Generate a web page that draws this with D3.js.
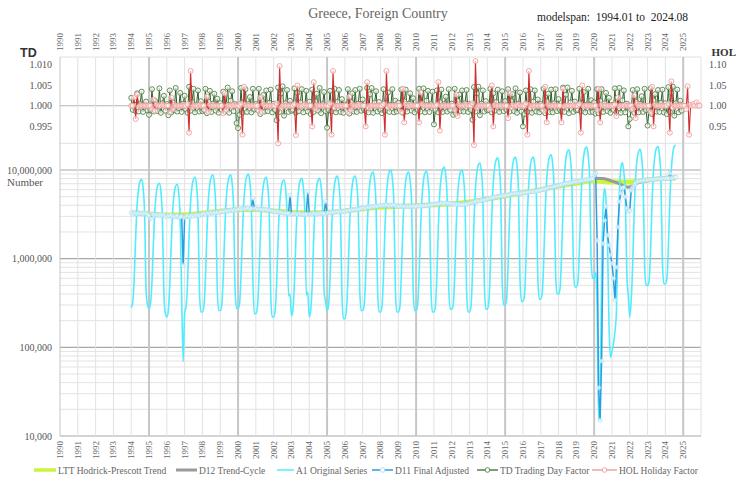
<!DOCTYPE html>
<html>
<head>
<meta charset="utf-8">
<title>Greece, Foreign Country</title>
<script src="https://cdn.jsdelivr.net/npm/d3@7"></script>
<style>
body { margin: 0; background: #fff; }
text { font-family: "Liberation Serif", "Times New Roman", serif; }
</style>
</head>
<body>
<div id="chart"></div>
<script>

//Monthly series start 1994.01 (values in thousands)
var startYear = 1994;

//A1 original series
var a1Original = [
280,320,600,1750,4100,6300,7500,7850,6300,3300,450,300,
275,310,560,1550,3700,5700,6800,7100,5700,2900,420,240,
220,260,520,1500,3600,5500,6600,6900,5500,2800,380,69,
240,290,560,1800,4300,6600,7900,8300,6700,3500,420,250,
250,290,600,1900,4600,7000,8400,8800,7100,3700,440,260,
260,300,620,1950,4600,7000,8400,8800,7100,3700,450,275,
275,310,640,2000,4700,7200,8600,9000,7200,3800,560,240,
240,280,560,1800,4300,6600,7900,8300,6600,3500,400,220,
220,260,530,1700,4000,6100,7400,7700,6200,3200,380,400,
225,270,540,1700,4100,6400,7700,8050,6400,3400,390,420,
220,265,520,1750,4200,6400,7700,8050,6400,3400,420,330,
260,300,600,1900,4500,6800,8200,8550,6800,3600,400,210,
210,260,560,1900,4500,6800,8200,8550,6900,3600,450,260,
260,300,640,2100,5000,7600,9100,9500,7600,4000,470,250,
250,290,650,2200,5200,8000,9600,10000,8000,4200,480,250,
250,280,620,2100,4900,7600,9100,9500,7600,4000,450,260,
260,300,640,2100,5000,7700,9300,9700,7800,4100,460,250,
250,290,650,2300,5600,8600,10300,10800,8600,4500,470,270,
270,300,640,2200,5200,8000,9600,10000,8000,4200,450,250,
250,290,700,2600,6200,9600,11500,12000,9600,5000,500,270,
270,320,800,3000,7100,10900,13100,13700,11000,5800,560,300,
300,350,850,3000,7300,11200,13400,14000,11200,5900,600,330,
330,380,900,3100,7300,11200,13400,14000,11200,6000,640,350,
350,410,950,3300,7700,11800,14200,14800,11800,6300,700,400,
400,460,1050,3700,8800,13500,16200,16900,13500,7200,800,480,
480,540,1200,4000,9500,14600,17500,18200,14600,7700,900,600,
600,700,280,15,25,600,3800,6200,4500,1500,180,77,
90,110,150,250,1500,5500,10500,12100,9500,5200,700,380,
220,350,900,3500,8500,13500,16300,17100,13800,7400,850,500,
500,560,1200,4200,9800,14800,17700,18400,14800,7900,900,520,
520,600,1300,4500,10200,15500,18500,19200
];

//D11 final seasonally adjusted series
var d11Adjusted = [
3300,3180,3350,3240,3200,3280,3230,3260,3190,3300,3220,3150,
3050,2840,3200,3150,3080,3120,3100,3060,3140,3050,3120,3000,
2960,3100,3020,3080,2950,3000,2980,3050,2900,2950,3000,840,
2900,2980,3050,2950,3020,3080,3000,3100,3060,3120,3050,3150,
3180,3220,3150,3250,3280,3200,3300,3250,3320,3280,3350,3300,
3350,3420,3380,3450,3480,3400,3520,3500,3550,3480,3600,3550,
3600,3650,3580,3700,3620,3680,3650,3720,3600,3700,4800,3650,
3680,3600,3650,3580,3620,3550,3600,3580,3500,3550,3480,3450,
3420,3380,3350,3400,3300,3320,3280,3250,3300,3220,3250,5200,
3150,3200,3250,3180,3150,3220,3180,3150,3200,3120,3180,5700,
3150,3220,3180,3250,3200,3180,3260,3220,3280,3200,3250,4400,
3250,3320,3280,3350,3300,3380,3350,3400,3320,3420,3380,3400,
3420,3480,3450,3520,3500,3560,3540,3600,3580,3620,3650,3700,
3720,3750,3700,3800,3820,3780,3860,3900,3850,3920,3880,3950,
4000,3950,4020,3980,4050,4000,3960,4030,3990,4050,3980,3900,
3920,3880,3950,3850,3900,3870,3920,3860,3900,3880,3920,3900,
3880,3950,3900,3980,3920,3960,3940,4000,3960,4020,4050,4080,
4100,4150,4120,4200,4180,4250,4220,4200,4260,4180,4220,4150,
4180,4120,4150,4080,4120,4100,4060,4120,4080,4150,4120,4200,
4220,4280,4300,4350,4400,4450,4500,4480,4550,4600,4580,4650,
4700,4750,4800,4850,4900,4950,5000,4980,5050,5100,5080,5150,
5200,5180,5250,5300,5350,5400,5380,5420,5450,5400,5500,5480,
5520,5580,5550,5600,5650,5700,5680,5720,5750,5800,5850,5900,
5950,6050,6100,6150,6200,6300,6350,6400,6450,6500,6550,6650,
6700,6750,6800,6900,7000,7050,7100,7150,7200,7250,7300,7350,
7400,7450,7500,7550,7600,7650,7700,7750,7800,7850,7900,8000,
8600,9200,1600,35,15,70,1480,2700,3850,1840,1420,1100,
880,600,340,800,2280,4400,5450,6200,6400,5000,3700,3400,
3500,5900,6400,6800,7100,7400,7450,7500,7550,7600,7650,7700,
7700,7750,7800,7780,7850,7900,7880,7950,7920,8000,7980,8050,
8000,8100,8050,9200,8150,8200,8250,8300
];

//D12 trend-cycle, read every half year
var d12Dates = [1994.0,1994.5,1995.0,1995.5,1996.0,1996.5,1997.0,1997.5,1998.0,1998.5,1999.0,1999.5,
2000.0,2000.5,2001.0,2001.5,2002.0,2002.5,2003.0,2003.5,2004.0,2004.5,2005.0,2005.5,2006.0,2006.5,
2007.0,2007.5,2008.0,2008.5,2009.0,2009.5,2010.0,2010.5,2011.0,2011.5,2012.0,2012.5,2013.0,2013.5,
2014.0,2014.5,2015.0,2015.5,2016.0,2016.5,2017.0,2017.5,2018.0,2018.5,2019.0,2019.5,2020.0,2020.5,
2021.0,2021.5,2021.9,2022.5,2023.0,2023.5,2024.0,2024.58];
var d12Trend = [3250,3230,3150,3100,3080,3000,2950,3050,3180,3280,3380,3500,
3620,3680,3650,3580,3420,3300,3220,3180,3200,3230,3300,3380,3450,3550,
3700,3850,3980,4000,3920,3880,3900,3950,4100,4220,4150,4100,4250,4500,
4750,5000,5200,5400,5550,5700,6000,6350,6750,7100,7400,7700,8050,8000,
7500,6900,6400,7200,7600,7850,8000,8150];

//LTT Hodrick-Prescott trend, read every year
var lttDates = [1994,1995,1996,1997,1998,1999,2000,2001,2002,2003,2004,2005,2006,2007,2008,2009,
2010,2011,2012,2013,2014,2015,2016,2017,2018,2019,2020,2021,2022,2023,2024,2024.58];
var lttTrend = [3300,3200,3100,3120,3250,3420,3560,3580,3450,3320,3280,3330,3460,3650,3820,3900,
3960,4050,4150,4350,4700,5100,5550,6000,6600,7100,7550,7300,7300,7700,8050,8150];

//TD trading day factor, 1994.01 to 2024.12
var tdFactor = [
1.0019,0.9990,1.0003,0.9987,1.0030,0.9986,1.0004,1.0034,0.9985,1.0002,1.0010,0.9989,
0.9978,0.9990,1.0040,0.9986,1.0012,1.0002,0.9987,1.0042,0.9983,1.0006,1.0024,0.9988,
1.0004,0.9977,1.0037,0.9984,1.0008,0.9989,1.0043,0.9986,0.9994,1.0031,0.9985,1.0005,
1.0024,0.9991,0.9983,1.0046,0.9988,1.0009,1.0041,0.9984,1.0003,1.0037,0.9986,1.0011,
0.9987,0.9990,1.0041,0.9982,1.0010,1.0036,0.9985,1.0005,1.0029,0.9988,1.0017,0.9983,
1.0006,0.9990,1.0034,0.9986,1.0003,1.0044,0.9983,1.0012,1.0035,0.9987,1.0004,0.9958,
0.9946,0.9978,1.0043,0.9983,1.0009,1.0040,0.9985,1.0004,1.0021,0.9984,1.0041,0.9991,
1.0004,0.9990,1.0041,0.9980,1.0013,1.0026,0.9986,1.0037,0.9987,1.0007,1.0039,0.9984,
1.0005,0.9990,0.9965,1.0044,0.9985,1.0030,1.0047,0.9976,1.0006,1.0038,0.9985,1.0012,
0.9988,0.9990,1.0042,0.9983,1.0031,0.9987,1.0008,1.0040,0.9984,1.0002,1.0036,0.9986,
1.0010,0.9980,1.0039,0.9985,1.0011,1.0029,0.9988,1.0043,0.9982,1.0004,1.0033,0.9987,
0.9947,0.9990,1.0036,0.9986,1.0004,1.0041,0.9984,1.0009,1.0038,0.9985,1.0016,0.9983,
1.0003,0.9990,1.0040,0.9981,1.0010,1.0030,0.9986,1.0038,0.9985,1.0005,1.0041,0.9988,
1.0015,0.9990,0.9987,1.0043,0.9984,1.0028,1.0043,0.9983,1.0007,1.0035,0.9986,1.0009,
0.9990,0.9982,1.0040,0.9987,1.0006,1.0032,0.9985,1.0002,1.0040,0.9984,1.0012,0.9986,
1.0007,0.9990,1.0039,0.9983,1.0011,1.0039,0.9986,1.0005,1.0030,0.9988,1.0018,0.9984,
1.0001,0.9990,1.0041,0.9986,1.0003,1.0042,0.9984,1.0012,1.0036,0.9985,1.0004,1.0034,
0.9955,0.9990,1.0037,0.9984,1.0009,1.0039,0.9985,1.0004,1.0022,0.9986,1.0040,0.9990,
1.0005,0.9978,1.0041,0.9981,1.0012,1.0027,0.9987,1.0037,0.9986,1.0006,1.0038,0.9985,
1.0004,0.9990,0.9966,1.0045,0.9986,1.0030,1.0046,0.9977,1.0005,1.0037,0.9986,1.0011,
0.9989,0.9990,1.0041,0.9984,1.0030,0.9988,1.0009,1.0039,0.9985,1.0003,1.0035,0.9987,
1.0011,0.9990,1.0040,0.9986,1.0012,1.0028,0.9987,1.0042,0.9983,1.0005,1.0032,0.9986,
0.9950,0.9980,1.0037,0.9985,1.0005,1.0040,0.9983,1.0010,1.0037,0.9986,1.0015,0.9984,
1.0004,0.9990,1.0041,0.9982,1.0011,1.0029,0.9985,1.0039,0.9984,1.0006,1.0040,0.9987,
1.0016,0.9990,0.9986,1.0044,0.9985,1.0027,1.0044,0.9982,1.0008,1.0036,0.9985,1.0010,
0.9989,0.9990,1.0041,0.9986,1.0007,1.0033,0.9984,1.0003,1.0041,0.9985,1.0013,0.9985,
1.0008,0.9981,1.0040,0.9982,1.0012,1.0040,0.9985,1.0006,1.0031,0.9987,1.0019,0.9983,
1.0002,0.9990,1.0042,0.9985,1.0004,1.0043,0.9983,1.0013,1.0037,0.9984,1.0005,0.9950,
0.9968,0.9990,1.0038,0.9983,1.0010,1.0040,0.9984,1.0005,1.0023,0.9985,1.0041,0.9989,
0.9952,0.9990,1.0042,0.9980,1.0013,1.0028,0.9986,1.0038,0.9985,1.0007,1.0039,0.9984,
1.0006,0.9980,1.0045,0.9985,1.0031,1.0046,0.9976,1.0006,1.0039,0.9984,1.0012,0.9988
];

//HOL holiday factor, 1994.01 to 2025.12
var holFactor = [
1.000,1.000,1.020,0.968,1.027,0.997,1.000,1.000,1.000,1.000,1.000,1.000,
1.000,1.000,0.992,1.015,0.988,1.003,1.000,1.000,1.000,1.002,1.000,1.000,
1.000,1.000,0.985,1.020,0.993,1.002,1.000,1.000,1.000,1.000,1.000,1.000,
1.000,1.000,1.004,0.935,1.084,0.996,1.000,1.000,1.000,1.000,1.002,1.000,
1.000,1.000,0.990,1.022,0.985,1.003,1.000,1.000,1.000,1.000,1.000,1.000,
1.000,1.000,0.982,1.030,0.990,1.000,1.000,1.000,1.000,1.002,1.000,1.000,
1.000,1.000,1.005,0.930,1.046,1.002,1.000,1.000,1.000,1.000,1.000,1.000,
1.000,1.000,0.988,1.020,0.985,1.004,1.000,1.000,1.000,1.000,1.000,1.000,
1.000,1.000,1.006,0.909,1.096,0.995,1.000,1.000,1.000,1.000,1.000,1.000,
1.000,1.000,1.004,0.929,1.049,1.000,1.000,1.000,1.000,1.003,1.000,1.000,
1.000,1.000,0.950,1.057,0.992,1.002,1.000,1.000,1.000,1.000,1.000,1.000,
1.000,1.000,1.006,0.930,1.084,0.996,1.000,1.000,1.000,1.000,1.000,1.000,
1.000,1.000,0.985,1.022,0.990,1.003,1.000,1.000,1.000,1.000,1.002,1.000,
1.000,1.000,0.950,1.057,0.995,1.000,1.000,1.000,1.000,1.000,1.000,1.000,
1.000,1.000,1.004,0.930,1.084,0.996,1.000,1.000,1.000,1.000,1.000,1.000,
1.000,1.000,0.985,1.041,0.960,1.004,1.000,1.000,1.000,1.002,1.000,1.000,
1.000,1.000,0.960,1.032,1.004,1.000,1.000,1.000,1.000,1.000,1.000,1.000,
1.000,1.000,1.002,1.057,0.940,1.000,1.000,1.000,1.000,1.000,1.000,1.000,
1.000,1.000,0.990,1.027,0.975,1.003,1.000,1.000,1.000,1.000,1.002,1.000,
1.000,1.000,1.006,0.905,1.108,0.995,1.000,1.000,1.000,1.000,1.000,1.000,
1.000,1.000,0.992,1.049,0.950,1.002,1.000,1.000,1.000,1.000,1.000,1.000,
1.000,1.000,0.970,1.030,0.996,1.002,1.000,1.000,1.000,1.003,1.000,1.000,
1.000,1.000,1.005,0.930,1.084,0.996,1.000,1.000,1.000,1.000,1.000,1.000,
1.000,1.000,0.988,1.046,0.960,1.003,1.000,1.000,1.000,1.000,1.000,1.000,
1.000,1.000,0.960,1.041,0.998,1.000,1.000,1.000,1.000,1.000,1.002,1.000,
1.000,1.000,1.004,0.935,1.049,0.999,1.000,1.000,1.000,1.000,1.000,1.000,
1.000,1.000,0.990,1.041,0.960,1.002,1.000,1.000,1.000,1.000,1.000,1.000,
1.000,1.000,1.003,0.975,1.020,0.998,1.000,1.000,1.000,1.002,1.000,1.000,
1.000,1.000,0.992,1.025,0.970,1.004,1.000,1.000,1.000,1.000,1.000,1.000,
1.000,1.000,0.985,1.046,0.950,1.003,1.000,1.000,1.000,1.000,1.000,1.000,
1.000,1.000,1.005,0.935,1.059,0.996,1.000,1.000,1.000,1.000,1.000,1.000,
1.000,1.000,0.992,1.047,0.930,1.002,1.000,1.004,1.000,1.008,1.000,1.000
];

//Tick labels
var tdTicks = [0.995, 1.000, 1.005, 1.010];
var holTicks = [0.95, 1.00, 1.05, 1.10];
var logTicks = [10000, 100000, 1000000, 10000000];
var yearTicks = d3.range(1990, 2026);

var legendItems = [
	{ key: "ltt", label: "LTT Hodrick-Prescott Trend" },
	{ key: "d12", label: "D12 Trend-Cycle" },
	{ key: "a1", label: "A1 Original Series" },
	{ key: "d11", label: "D11 Final Adjusted" },
	{ key: "td", label: "TD Trading Day Factor" },
	{ key: "hol", label: "HOL Holiday Factor" }
];

var colors = {
	ltt: "#c9f53c", d12: "#9a9a9a", a1: "#52ecff", d11: "#2a9fe0",
	td: "#2f5d29", tdMark: "#55824b", hol: "#d22c2c", holMark: "#f29c9c"
};

//Layout
var plotTop = 57, plotBottom = 436, plotLeft = 60, plotRight = 701;

var svg = d3.select("#chart")
	.append("svg")
	.attr("width", 738)
	.attr("height", 479);

var x = d3.scaleLinear().domain([1990, 2026]).range([plotLeft, plotRight]);
var yTD = d3.scaleLinear().domain([0.995, 1.010]).range([126.4, 64.4]);
var yHOL = d3.scaleLinear().domain([0.95, 1.10]).range([126.4, 64.4]);
var yLog = d3.scaleLog().domain([1e4, 1e7]).range([plotBottom, 170]);

var monthDate = function(i) { return startYear + i / 12; };

//Horizontal grid of the log panel
var logGrid = [];
for (var e = 4; e <= 7; e++) {
	for (var m = 1; m <= 9; m++) {
		var v = m * Math.pow(10, e);
		if (v <= 2e7) logGrid.push(v);
	}
}

var grid = svg.append("g");
grid.selectAll(".hgrid").data(logGrid).enter().append("line")
	.attr("x1", plotLeft).attr("x2", plotRight)
	.attr("y1", function(d) { return yLog(d); })
	.attr("y2", function(d) { return yLog(d); })
	.attr("stroke", function(d) { return logTicks.indexOf(d) >= 0 ? "#a8a8a8" : "#e0e0e0"; })
	.attr("stroke-width", function(d) { return logTicks.indexOf(d) >= 0 ? 1.2 : 0.9; });

grid.append("line")
	.attr("x1", plotLeft).attr("x2", plotRight)
	.attr("y1", plotTop).attr("y2", plotTop)
	.attr("stroke", "#e0e0e0");

grid.append("line")
	.attr("x1", plotLeft).attr("x2", plotRight)
	.attr("y1", yTD(1)).attr("y2", yTD(1))
	.attr("stroke", "#b4b4b4").attr("stroke-width", 1.2);

//Vertical year grid
grid.selectAll(".vgrid").data(d3.range(1990, 2027)).enter().append("line")
	.attr("x1", function(d) { return x(d); })
	.attr("x2", function(d) { return x(d); })
	.attr("y1", plotTop).attr("y2", plotBottom)
	.attr("stroke", function(d) { return (d % 5 === 0 && d < 2026) ? "#c6c6c6" : "#e2e2e2"; })
	.attr("stroke-width", function(d) { return (d % 5 === 0 && d > 1990 && d < 2026) ? 2 : 1; });

//Year labels top and bottom
var labels = svg.append("g").attr("fill", "#666").attr("font-size", "9px");
labels.selectAll(".ytop").data(yearTicks).enter().append("text")
	.attr("transform", function(d) { return "translate(" + x(d) + ",51) rotate(-90)"; })
	.attr("dy", "0.33em")
	.attr("text-anchor", "start")
	.text(function(d) { return d; });
labels.selectAll(".ybot").data(yearTicks).enter().append("text")
	.attr("transform", function(d) { return "translate(" + x(d) + ",441) rotate(-90)"; })
	.attr("dy", "0.33em")
	.attr("text-anchor", "end")
	.text(function(d) { return d; });

//Y axis labels
var axisText = svg.append("g").attr("fill", "#555").attr("font-size", "10px");
axisText.selectAll(".tdl").data(tdTicks).enter().append("text")
	.attr("x", 52).attr("y", function(d) { return yTD(d); })
	.attr("dy", "0.35em").attr("text-anchor", "end")
	.text(function(d) { return d3.format(".3f")(d); });
axisText.selectAll(".holl").data(holTicks).enter().append("text")
	.attr("x", 709).attr("y", function(d) { return yHOL(d); })
	.attr("dy", "0.35em").attr("text-anchor", "start")
	.text(function(d) { return d3.format(".2f")(d); });
axisText.selectAll(".logl").data(logTicks).enter().append("text")
	.attr("x", 52).attr("y", function(d) { return yLog(d); })
	.attr("dy", "0.35em").attr("text-anchor", "end")
	.text(function(d) { return d3.format(",")(d); });

svg.append("text").attr("x", 25).attr("y", 186)
	.attr("text-anchor", "middle").attr("font-size", "11px").attr("fill", "#555")
	.text("Number");
svg.append("text").attr("x", 20).attr("y", 57)
	.attr("font-size", "12.5px").attr("font-weight", "bold").attr("fill", "#333")
	.style("font-family", "'Liberation Sans', Arial, sans-serif")
	.text("TD");
svg.append("text").attr("x", 736).attr("y", 56)
	.attr("text-anchor", "end")
	.attr("font-size", "11px").attr("font-weight", "bold").attr("fill", "#333")
	.text("HOL");

//Title
svg.append("text").attr("x", 378).attr("y", 18)
	.attr("text-anchor", "middle").attr("font-size", "14px").attr("fill", "#666")
	.text("Greece, Foreign Country");
svg.append("text").attr("x", 537).attr("y", 21)
	.attr("font-size", "11.5px").attr("fill", "#222")
	.style("white-space", "pre")
	.text("modelspan:  1994.01 to  2024.08");

//Lower panel series
var logLine = d3.line()
	.x(function(d) { return x(d[0]); })
	.y(function(d) { return yLog(d[1] * 1000); });

var lttData = lttDates.map(function(d, i) { return [d, lttTrend[i]]; });
var d12Data = d12Dates.map(function(d, i) { return [d, d12Trend[i]]; });
var a1Data = a1Original.map(function(d, i) { return [monthDate(i), d]; });
var d11Data = d11Adjusted.map(function(d, i) { return [monthDate(i), d]; });

svg.append("path").datum(lttData)
	.attr("d", logLine.curve(d3.curveMonotoneX))
	.attr("fill", "none").attr("stroke", colors.ltt).attr("stroke-width", 5);
svg.append("path").datum(d12Data)
	.attr("d", logLine.curve(d3.curveMonotoneX))
	.attr("fill", "none").attr("stroke", colors.d12).attr("stroke-width", 3);
svg.append("path").datum(a1Data)
	.attr("d", logLine.curve(d3.curveMonotoneX))
	.attr("fill", "none").attr("stroke", colors.a1).attr("stroke-width", 1.6);
svg.append("path").datum(d11Data)
	.attr("d", logLine.curve(d3.curveLinear))
	.attr("fill", "none").attr("stroke", colors.d11).attr("stroke-width", 1.5);
svg.append("g").selectAll("circle").data(d11Data).enter().append("circle")
	.attr("cx", function(d) { return x(d[0]); })
	.attr("cy", function(d) { return yLog(d[1] * 1000); })
	.attr("r", 2)
	.attr("fill", "#fff").attr("fill-opacity", 0.7)
	.attr("stroke", "#a6dcf5").attr("stroke-width", 0.7);

//Upper panel factors
var tdData = tdFactor.map(function(d, i) { return [monthDate(i), d]; });
var holData = holFactor.map(function(d, i) { return [monthDate(i), d]; });

svg.append("path").datum(tdData)
	.attr("d", d3.line().x(function(d) { return x(d[0]); }).y(function(d) { return yTD(d[1]); }))
	.attr("fill", "none").attr("stroke", colors.td).attr("stroke-width", 1);
svg.append("g").selectAll("circle").data(tdData).enter().append("circle")
	.attr("cx", function(d) { return x(d[0]); })
	.attr("cy", function(d) { return yTD(d[1]); })
	.attr("r", 2.5)
	.attr("fill", "#f3f7ef").attr("fill-opacity", 0.7)
	.attr("stroke", colors.tdMark).attr("stroke-width", 0.9);

svg.append("path").datum(holData)
	.attr("d", d3.line().x(function(d) { return x(d[0]); }).y(function(d) { return yHOL(d[1]); }))
	.attr("fill", "none").attr("stroke", colors.hol).attr("stroke-width", 1.1);
svg.append("g").selectAll("circle").data(holData).enter().append("circle")
	.attr("cx", function(d) { return x(d[0]); })
	.attr("cy", function(d) { return yHOL(d[1]); })
	.attr("r", 2.5)
	.attr("fill", "#fff").attr("fill-opacity", 0.6)
	.attr("stroke", colors.holMark).attr("stroke-width", 0.9);

//Legend
var legendPos = { ltt: [34, 56], d12: [176, 197], a1: [277, 294], d11: [372, 393], td: [477, 498], hol: [592, 617] };
var legendStyle = {
	ltt: [colors.ltt, 3.5], d12: [colors.d12, 3], a1: [colors.a1, 1.5],
	d11: [colors.d11, 1.5], td: [colors.td, 1.2], hol: ["#ec8c8c", 1.2]
};
var legend = svg.append("g");
legendItems.forEach(function(item) {
	var p = legendPos[item.key], s = legendStyle[item.key];
	legend.append("line").attr("x1", p[0]).attr("x2", p[1]).attr("y1", 470).attr("y2", 470)
		.attr("stroke", s[0]).attr("stroke-width", s[1]);
	if (item.key === "d11" || item.key === "td" || item.key === "hol") {
		legend.append("circle").attr("cx", (p[0] + p[1]) / 2).attr("cy", 470).attr("r", 2.3)
			.attr("fill", "#fff")
			.attr("stroke", item.key === "d11" ? "#a6dcf5" : (item.key === "td" ? colors.tdMark : colors.holMark))
			.attr("stroke-width", 0.9);
	}
	legend.append("text").attr("x", p[1] + 2).attr("y", 473.5)
		.attr("font-size", "9.5px").attr("fill", "#666")
		.text(item.label);
});

</script>
</body>
</html>
